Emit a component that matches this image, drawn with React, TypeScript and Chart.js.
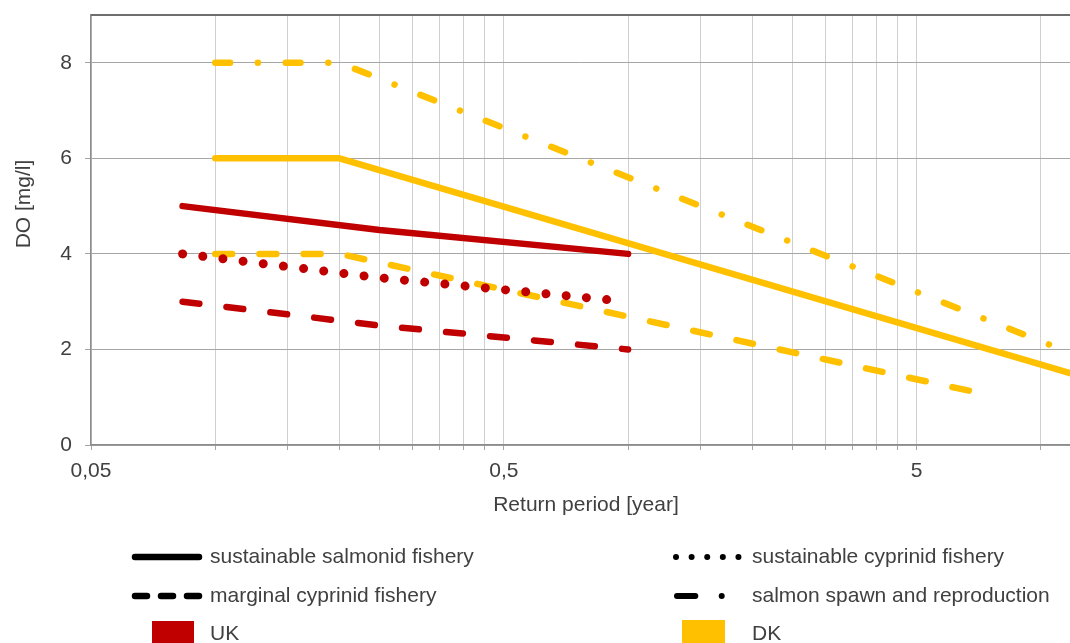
import React, { useEffect, useRef } from 'react';
import { Chart, registerables } from 'chart.js';
Chart.register(...registerables);

const UK_COLOR = '#C00000';
const DK_COLOR = '#FFC000';
const TEXT_COLOR = '#404040';
const FONT_FAMILY = '"Liberation Sans", Arial, sans-serif';

// Return periods [year] and DO limits [mg/l]
const ukPeriods = [1 / 12, 0.25, 1];
const ukSalmonid = [5, 4.5, 4];
const ukCyprinidSustainablePeriods = [1 / 12, 0.25, 0.92];
const ukCyprinidSustainable = [4, 3.5, 3.03];
const ukCyprinidMarginal = [3, 2.5, 2];

const dkSalmonidPeriods = [0.1, 0.2, 12];
const dkSalmonid = [6, 6, 1.48];
const dkCyprinidPeriods = [0.1, 0.2, 7];
const dkCyprinidMarginal = [4, 4, 1.1];
const dkSpawnPeriods = [0.1, 0.2, 12];
const dkSpawn = [8, 8, 1.9];

const xGridValues = [0.05, 0.1, 0.15, 0.2, 0.25, 0.3, 0.35, 0.4, 0.45, 0.5, 1, 1.5, 2, 2.5, 3, 3.5, 4, 4.5, 5, 10];
const xLabelValues = [0.05, 0.5, 5];
const xLabelTexts = ['0,05', '0,5', '5'];
const yTicks = [0, 2, 4, 6, 8];

const xTitle = 'Return period [year]';
const yTitle = 'DO [mg/l]';
const legendLines = [
  'sustainable salmonid fishery',
  'marginal cyprinid fishery',
  'sustainable cyprinid fishery',
  'salmon spawn and reproduction',
];
const legendCountries = ['UK', 'DK'];

const zip = (xs: number[], ys: number[]) => xs.map((x, i) => ({ x, y: ys[i] }));

const LW = 6.5;
const DASHED = [16.9, 27.3];
const DOTTED = [0.01, 20.3];
const DASH_DOT = [14.8, 27.8, 0.01, 27.8];

const datasets: any[] = [
  { label: 'UK ' + legendLines[0], data: zip(ukPeriods, ukSalmonid), borderColor: UK_COLOR, borderWidth: LW },
  { label: 'UK ' + legendLines[2], data: zip(ukCyprinidSustainablePeriods, ukCyprinidSustainable), borderColor: UK_COLOR, borderWidth: 9, borderDash: DOTTED },
  { label: 'UK ' + legendLines[1], data: zip(ukPeriods, ukCyprinidMarginal), borderColor: UK_COLOR, borderWidth: LW, borderDash: DASHED },
  { label: 'DK ' + legendLines[0], data: zip(dkSalmonidPeriods, dkSalmonid), borderColor: DK_COLOR, borderWidth: LW },
  { label: 'DK ' + legendLines[1], data: zip(dkCyprinidPeriods, dkCyprinidMarginal), borderColor: DK_COLOR, borderWidth: LW, borderDash: DASHED },
  { label: 'DK ' + legendLines[3], data: zip(dkSpawnPeriods, dkSpawn), borderColor: DK_COLOR, borderWidth: LW, borderDash: DASH_DOT },
].map((d) => ({
  ...d,
  borderCapStyle: 'round',
  borderJoinStyle: 'round',
  pointRadius: 0,
  tension: 0,
  fill: false,
}));

const zeroPadding = (s: any) => {
  s.paddingTop = 0;
  s.paddingBottom = 0;
  s.paddingLeft = 0;
  s.paddingRight = 0;
};

const decorPlugin = {
  id: 'decor',
  afterDraw(chart: any) {
    const ctx = chart.ctx as CanvasRenderingContext2D;
    const area = chart.chartArea;
    ctx.save();
    // top border of plot area
    ctx.strokeStyle = '#6e6e6e';
    ctx.lineWidth = 2;
    ctx.setLineDash([]);
    ctx.beginPath();
    ctx.moveTo(area.left, area.top);
    ctx.lineTo(area.right, area.top);
    ctx.stroke();

    // axis titles
    ctx.fillStyle = TEXT_COLOR;
    ctx.font = `21px ${FONT_FAMILY}`;
    ctx.textAlign = 'center';
    ctx.textBaseline = 'middle';
    ctx.fillText(xTitle, 586, 505);
    ctx.save();
    ctx.translate(24, 204);
    ctx.rotate(-Math.PI / 2);
    ctx.fillText(yTitle, 0, 0);
    ctx.restore();

    // legend
    const rows = [557, 596, 634];
    ctx.strokeStyle = '#000';
    ctx.lineWidth = 6.5;
    ctx.lineCap = 'round';
    const seg = (x1: number, x2: number, y: number, dash: number[]) => {
      ctx.setLineDash(dash);
      ctx.beginPath();
      ctx.moveTo(x1, y);
      ctx.lineTo(x2, y);
      ctx.stroke();
    };
    seg(135, 199, rows[0], []);
    seg(135, 199, rows[1], [12, 14]);
    ctx.lineWidth = 6;
    seg(676, 739, rows[0], [0.01, 15.6]);
    seg(677, 722, rows[1], [18.3, 26.4, 0.01, 30]);
    ctx.setLineDash([]);

    ctx.fillStyle = UK_COLOR;
    ctx.fillRect(152, 621, 42, 42);
    ctx.fillStyle = DK_COLOR;
    ctx.fillRect(682, 620, 43, 43);

    ctx.fillStyle = TEXT_COLOR;
    ctx.textAlign = 'left';
    ctx.fillText(legendLines[0], 210, rows[0]);
    ctx.fillText(legendLines[1], 210, rows[1]);
    ctx.fillText(legendCountries[0], 210, rows[2]);
    ctx.fillText(legendLines[2], 752, rows[0]);
    ctx.fillText(legendLines[3], 752, rows[1]);
    ctx.fillText(legendCountries[1], 752, rows[2]);
    ctx.restore();
  },
};

export default function App() {
  const ref = useRef<HTMLCanvasElement>(null);
  useEffect(() => {
    const canvas = ref.current!;
    const chart = new Chart(canvas, {
      type: 'line',
      data: { datasets },
      options: {
        responsive: false,
        animation: false,
        devicePixelRatio: 1,
        layout: { padding: { left: 0, right: 0, top: 15, bottom: 0 } },
        plugins: { legend: { display: false }, tooltip: { enabled: false }, title: { display: false } },
        scales: {
          x: {
            type: 'logarithmic',
            min: 0.05,
            max: 11.76,
            afterBuildTicks: (s: any) => {
              s.ticks = xGridValues.map((v) => ({ value: v }));
            },
            afterFit: (s: any) => {
              s.height = 198;
              zeroPadding(s);
            },
            ticks: {
              autoSkip: false,
              maxRotation: 0,
              minRotation: 0,
              padding: 9,
              color: TEXT_COLOR,
              font: { size: 21, family: FONT_FAMILY },
              callback: (value: any) => {
                const i = xLabelValues.findIndex((v) => Math.abs(v - Number(value)) < 1e-9);
                return i >= 0 ? xLabelTexts[i] : '';
              },
            },
            grid: { color: '#d0d0d0', lineWidth: 1, tickLength: 5, tickColor: '#a6a6a6' },
            border: { color: '#8c8c8c', width: 1.5 },
          },
          y: {
            type: 'linear',
            min: 0,
            max: 9,
            afterBuildTicks: (s: any) => {
              s.ticks = yTicks.map((v) => ({ value: v }));
            },
            afterFit: (s: any) => {
              s.width = 91;
              zeroPadding(s);
            },
            ticks: {
              padding: 13,
              color: TEXT_COLOR,
              font: { size: 21, family: FONT_FAMILY },
            },
            grid: { color: '#a6a6a6', lineWidth: 1, tickLength: 6, tickColor: '#a6a6a6' },
            border: { color: '#8c8c8c', width: 1.5 },
          },
        },
      } as any,
      plugins: [decorPlugin],
    });
    return () => chart.destroy();
  }, []);
  return (
    <div style={{ position: 'fixed', left: 0, top: 0, width: 1070, height: 643, background: '#fff' }}>
      <canvas ref={ref} width={1070} height={643} style={{ display: 'block' }} />
    </div>
  );
}
